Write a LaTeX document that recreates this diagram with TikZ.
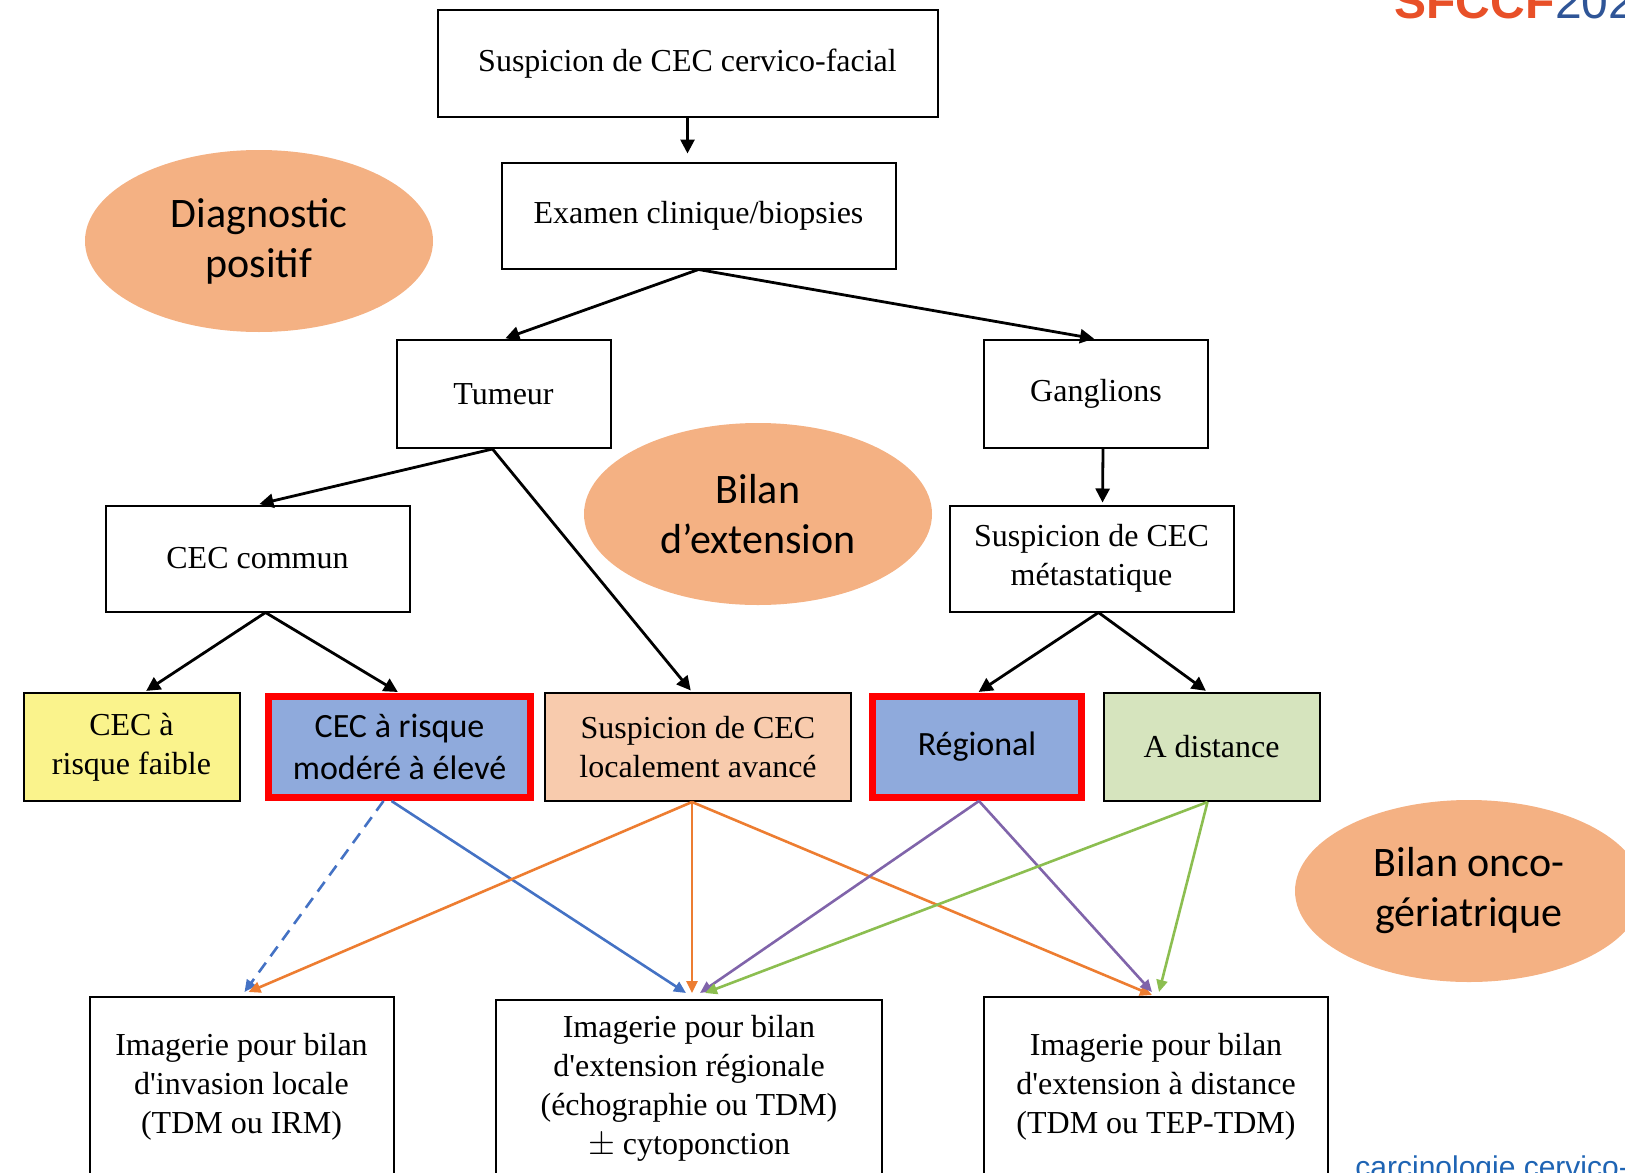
\documentclass[tikz,border=0pt]{standalone}
\usepackage{fontspec}
\usetikzlibrary{shapes.geometric, arrows.meta, positioning, calc}

\newfontfamily\boxfont{Liberation Serif}
\newfontfamily\calfont{Carlito}
\newfontfamily\logofont{Liberation Sans}

\definecolor{jaune}{RGB}{250,243,140}
\definecolor{bleu}{RGB}{143,170,220}
\definecolor{peche}{RGB}{248,203,173}
\definecolor{vert}{RGB}{214,228,190}
\definecolor{saumon}{RGB}{244,177,131}
\definecolor{fleblue}{RGB}{68,114,196}
\definecolor{fleorange}{RGB}{237,125,49}
\definecolor{flepurple}{RGB}{128,100,170}
\definecolor{flegreen}{RGB}{140,190,80}
\definecolor{sfred}{RGB}{232,80,40}
\definecolor{sfblue}{RGB}{47,85,151}
\definecolor{linkblue}{RGB}{30,100,180}

\begin{document}
\begin{tikzpicture}[x=0.5pt, y=-0.5pt,
whitebox/.style={rectangle, draw=black, line width=1pt, inner sep=0pt, align=center,
  font=\boxfont\fontsize{16}{19.5}\selectfont},
redbox/.style={rectangle, draw=red, line width=3.5pt, fill=bleu, inner sep=0pt, align=center,
  font=\calfont\fontsize{17}{21}\selectfont},
bubble/.style={ellipse, fill=saumon, inner sep=0pt, minimum width=174pt, minimum height=91pt,
  align=center, font=\calfont\fontsize{21}{25}\selectfont},
blackarrow/.style={-{Triangle[length=7pt,width=7pt]}, line width=1.4pt, shorten >=1pt},
colarrow/.style={-{Triangle[length=6pt,width=5.5pt]}, line width=1.3pt},
]
\useasboundingbox (0,0) rectangle (1625,1172);
\clip (0,0) rectangle (1625,1172);

\node[whitebox, minimum width=250pt, minimum height=53pt] (suspicion) at (687.5,63.5) {Suspicion de CEC cervico-facial};
\node[whitebox, minimum width=197pt, minimum height=53pt] (examen) at (698.5,215.5) {Examen clinique/biopsies};
\node[whitebox, minimum width=107pt, minimum height=54pt] (tumeur) at (503.5,394) {Tumeur};
\node[whitebox, minimum width=112pt, minimum height=54pt] (ganglions) at (1096,394) {Ganglions};
\node[whitebox, minimum width=152pt, minimum height=53pt] (commun) at (257.5,558.5) {CEC commun};
\node[whitebox, minimum width=142pt, minimum height=53pt] (metast) at (1091.5,558.5) {Suspicion de CEC\\métastatique};

\node[whitebox, fill=jaune, minimum width=108pt, minimum height=54pt] (faible) at (131.5,747) {CEC à\\risque faible};
\node[redbox, minimum width=131pt, minimum height=50.5pt] (modere) at (399.5,747) {CEC à risque\\modéré à élevé};
\node[whitebox, fill=peche, minimum width=153pt, minimum height=54pt] (localement) at (698,747) {Suspicion de CEC\\localement avancé};
\node[redbox, minimum width=104.5pt, minimum height=50.5pt] (regional) at (977,747) {Régional};
\node[whitebox, fill=vert, minimum width=108pt, minimum height=54pt] (distance) at (1211.5,747) {A distance};

\node[whitebox, minimum width=152pt, minimum height=90pt] (imglocale) at (241.5,1087) {Imagerie pour bilan\\d'invasion locale\\(TDM ou IRM)};
\node[whitebox, minimum width=193pt, minimum height=88pt] (imgregionale) at (689,1088) {Imagerie pour bilan\\d'extension régionale\\(échographie ou TDM)\\$\pm$ cytoponction};
\node[whitebox, minimum width=172pt, minimum height=90pt] (imgdistance) at (1156,1087) {Imagerie pour bilan\\d'extension à distance\\(TDM ou TEP-TDM)};

\node[bubble] (diagnostic) at (259,241) {Diagnostic\\positif};
\node[bubble] (bilanext) at (758,514) {Bilan\\d’extension};
\node[bubble] (bilanonco) at (1469,891) {Bilan onco-\\gériatrique};

\node[anchor=base west, inner sep=0pt, text=sfred, font=\logofont\bfseries\fontsize{24}{24}\selectfont] (logo) at (1394,19) {SFCCF};
\node[anchor=base west, inner sep=0pt, text=sfblue, font=\logofont\fontsize{24}{24}\selectfont] (annee) at (logo.base east) {2023};
\node[anchor=base west, inner sep=0pt, text=linkblue, font=\logofont\fontsize{15}{18}\selectfont] (lien) at (1355,1177) {carcinologie cervico-faciale};

%Lines
\draw[blackarrow, shorten >=4pt] (suspicion.south) -- (suspicion.south |- examen.north);
\draw[blackarrow] (examen.south) -- (tumeur.north);
\draw[blackarrow] (examen.south) -- (ganglions.north);
\draw[blackarrow] ($(tumeur.south)+(-11,0)$) -- (commun.north);
\draw[blackarrow] ($(tumeur.south)+(-11,0)$) -- ($(localement.north)+(-6,0)$);
\draw[blackarrow] ($(ganglions.south)+(7,0)$) -- ($(metast.north)+(11,0)$);
\draw[blackarrow] ($(commun.south)+(8,0)$) -- ($(faible.north)+(13,0)$);
\draw[blackarrow] ($(commun.south)+(8,0)$) -- (modere.north);
\draw[blackarrow] ($(metast.south)+(7,0)$) -- (regional.north);
\draw[blackarrow] ($(metast.south)+(7,0)$) -- ($(distance.north)+(-4,0)$);

%Colored lines
\draw[colarrow, fleblue, dash pattern=on 6pt off 4pt] ($(modere.south)+(-16,0)$) -- ($(imglocale.north)+(3,-4)$);
\draw[colarrow, fleblue] ($(modere.south)+(-8,0)$) -- ($(imgregionale.north)+(-3,-6)$);
\draw[colarrow, fleorange] ($(localement.south)+(-6,0)$) -- ($(imglocale.north)+(7,-4)$);
\draw[colarrow, fleorange] ($(localement.south)+(-6,0)$) -- ($(imgregionale.north)+(3,-6)$);
\draw[colarrow, fleorange] ($(localement.south)+(-6,0)$) -- ($(imgdistance.north)+(-4,-1)$);
\draw[colarrow, flepurple] ($(regional.south)+(2,0)$) -- ($(imgregionale.north)+(11,-6)$);
\draw[colarrow, flepurple] ($(regional.south)+(2,0)$) -- ($(imgdistance.north)+(-4,-4)$);
\draw[colarrow, flegreen] ($(distance.south)+(-4,0)$) -- ($(imgregionale.north)+(16,-6)$);
\draw[colarrow, flegreen] ($(distance.south)+(-4,0)$) -- ($(imgdistance.north)+(3,-4)$);
\end{tikzpicture}
\end{document}
